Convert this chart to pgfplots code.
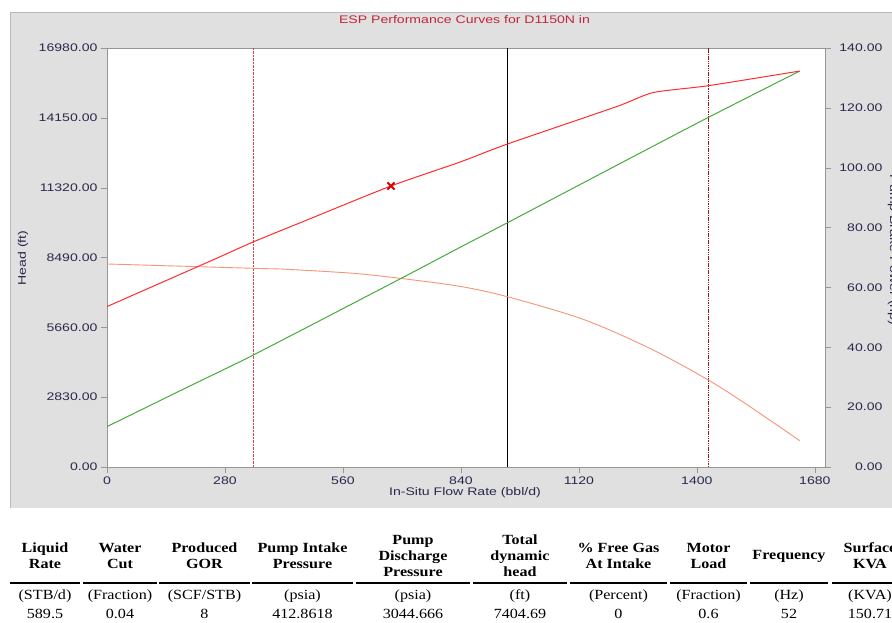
\documentclass[border=0pt]{standalone}
\usepackage{fontspec}
\usepackage{pgfplots}
\pgfplotsset{compat=1.18}
\newfontfamily\chartfont[FakeStretch=1.28]{Liberation Sans}
\newfontfamily\tabfont[FakeStretch=1.15]{Liberation Serif}
\definecolor{panelgray}{RGB}{224,224,224}
\definecolor{panelborder}{RGB}{185,185,185}
\definecolor{framegray}{RGB}{150,150,150}
\definecolor{ticktext}{RGB}{40,40,75}
\definecolor{titlered}{RGB}{195,35,60}
\definecolor{headred}{RGB}{255,45,45}
\definecolor{powergreen}{RGB}{70,170,60}
\definecolor{salmon}{RGB}{245,150,120}
\definecolor{limitred}{RGB}{160,20,30}
\definecolor{limitlight}{RGB}{205,70,80}
\begin{document}
\begin{tikzpicture}[x=1pt,y=1pt]
\path[use as bounding box] (0,0) rectangle (892,622);
\begin{scope}
\clip (0,0) rectangle (892,622);
\fill[panelgray] (10,114) rectangle (900,609.3);
\draw[panelborder] (10,114) -- (10,609.3) -- (900,609.3);
\node[font=\chartfont\fontsize{11}{13}\selectfont, text=titlered] at (464.5,602) {ESP Performance Curves for D1150N in};
\begin{axis}[
  at={(107pt,155pt)}, anchor=south west, scale only axis,
  width=718pt, height=419pt,
  xmin=0, xmax=1704, ymin=0, ymax=16980,
  scaled x ticks=false, scaled y ticks=false,
  axis background/.style={fill=white},
  axis line style={framegray},
  xtick={0,280,560,840,1120,1400,1680},
  xticklabels={0,280,560,840,1120,1400,1680},
  ytick={0,2830,5660,8490,11320,14150,16980},
  yticklabels={0.00,2830.00,5660.00,8490.00,11320.00,14150.00,16980.00},
  xtick pos=bottom, ytick pos=left, tick align=outside, major tick length=6pt,
  tick style={framegray},
  ticklabel style={font=\chartfont\fontsize{11}{13}\selectfont, text=ticktext},
  clip=true,
]
\addplot[limitlight, line width=0.55pt, dash pattern=on 2.5pt off 1pt] coordinates {(347,0) (347,16980)};
\addplot[black, line width=1.1pt] coordinates {(950,0) (950,16980)};
\addplot[limitred, line width=1.3pt, dash pattern=on 1.5pt off 0.8pt] coordinates {(1427,0) (1427,16980)};
\addplot[salmon, line width=0.9pt, smooth, tension=0.5] coordinates {(0,8227) (347,8052) (426,8012) (584,7850) (695,7647) (838,7320) (950,6901) (1130,5985) (1288,4810) (1427,3526) (1526,2444) (1644,1066)};
\end{axis}
\begin{axis}[
  at={(107pt,155pt)}, anchor=south west, scale only axis,
  width=718pt, height=419pt,
  xmin=0, xmax=1704, ymin=0, ymax=140,
  axis x line=none, axis y line*=right,
  axis line style={framegray},
  ytick={0,20,40,60,80,100,120,140},
  yticklabels={0.00,20.00,40.00,60.00,80.00,100.00,120.00,140.00},
  tick align=outside, major tick length=6pt,
  tick style={framegray},
  ticklabel style={font=\chartfont\fontsize{11}{13}\selectfont, text=ticktext},
  yticklabel style={anchor=east, xshift=55pt},
]
\addplot[powergreen, line width=1pt, smooth, tension=0.4] coordinates {(0,13.5) (200,27.3) (347,37.4) (695,62.8) (838,73.4) (950,81.6) (1200,100.1) (1427,116.8) (1644,132.3)};
\addplot[headred, line width=1pt, smooth, tension=0.4] coordinates {(0,53.6) (251.5,69.2) (347,75.2) (474,82.5) (674,93.9) (838,101.9) (950,107.9) (1209,120.4) (1296,125.1) (1427,127.4) (1644,132.3)};
\addplot[only marks, mark=x, mark size=5pt, color=red!85!black, mark options={line width=2pt}] coordinates {(674,93.9)};
\end{axis}
\node[font=\chartfont\fontsize{11}{13}\selectfont, text=ticktext] at (465,129) {In-Situ Flow Rate (bbl/d)};
\node[font=\chartfont\fontsize{11}{13}\selectfont, text=ticktext, rotate=90] at (23,364) {Head (ft)};
\node[font=\chartfont\fontsize{11}{13}\selectfont, text=ticktext, rotate=-90] at (893,372) {Pump Brake Power (hp)};
% table
\begin{scope}[every node/.style={align=center, inner sep=0pt, font=\tabfont\bfseries\fontsize{14}{16}\selectfont}]
\node at (45,66) {Liquid\\Rate};
\node at (120,66) {Water\\Cut};
\node at (204.5,66) {Produced\\GOR};
\node at (302.5,66) {Pump Intake\\Pressure};
\node at (413,66) {Pump\\Discharge\\Pressure};
\node at (520,66) {Total\\dynamic\\head};
\node at (618.5,66) {\% Free Gas\\At Intake};
\node at (708.5,66) {Motor\\Load};
\node at (789,66) {Frequency};
\node at (870,66) {Surface\\KVA};
\end{scope}
\foreach \a/\b in {10/80,83/157,159/250,252/353,356/470,473/567,570/667,670/747,750/828,832/900}
  \draw[line width=2.5pt] (\a,39) -- (\b,39);
\begin{scope}[every node/.style={inner sep=0pt, font=\tabfont\fontsize{14}{16}\selectfont}]
\node at (45,26) {(STB/d)};
\node at (120,26) {(Fraction)};
\node at (204.5,26) {(SCF/STB)};
\node at (302.5,26) {(psia)};
\node at (413,26) {(psia)};
\node at (520,26) {(ft)};
\node at (618.5,26) {(Percent)};
\node at (708.5,26) {(Fraction)};
\node at (789,26) {(Hz)};
\node at (870,26) {(KVA)};
\node at (45,8) {589.5};
\node at (120,8) {0.04};
\node at (204.5,8) {8};
\node at (302.5,8) {412.8618};
\node at (413,8) {3044.666};
\node at (520,8) {7404.69};
\node at (618.5,8) {0};
\node at (708.5,8) {0.6};
\node at (789,8) {52};
\node at (870,8) {150.71};
\end{scope}
\end{scope}
\end{tikzpicture}
\end{document}
